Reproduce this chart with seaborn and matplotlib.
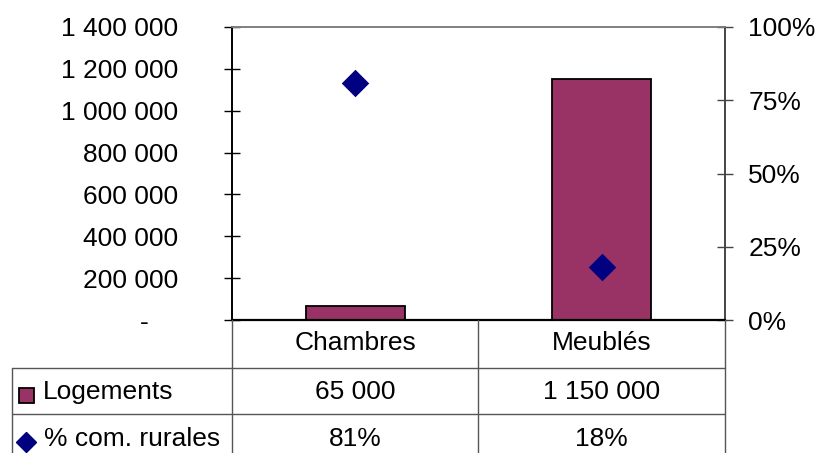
import matplotlib
matplotlib.use("Agg")
import matplotlib.pyplot as plt
from matplotlib.lines import Line2D
from matplotlib.patches import Rectangle
from matplotlib.ticker import FuncFormatter
import seaborn as sns
import pandas as pd

categories = ["Chambres", "Meublés"]
logements = [65000, 1150000]
pct_rurales = [0.81, 0.18]
series_names = ["Logements", "% com. rurales"]
left_ticks = [0, 200000, 400000, 600000, 800000, 1000000, 1200000, 1400000]
right_ticks = [0, 0.25, 0.5, 0.75, 1.0]

BAR_COLOR = "#993366"
DIAMOND_COLOR = "#000080"

sns.set_theme(style="white")
plt.rcParams["font.family"] = ["Liberation Sans", "DejaVu Sans"]
plt.rcParams["text.color"] = "black"
plt.rcParams["ytick.color"] = "black"
plt.rcParams["ytick.labelcolor"] = "black"
FS = 19

df = pd.DataFrame({"cat": categories, "log": logements, "pct": pct_rurales})

W, H = 816, 453
fig = plt.figure(figsize=(W / 100, H / 100), dpi=100)
x0, x1, y_top, y_bot = 232, 725, 27, 320
ax = fig.add_axes([x0 / W, 1 - y_bot / H, (x1 - x0) / W, (y_bot - y_top) / H])

sns.barplot(data=df, x="cat", y="log", ax=ax, color=BAR_COLOR, saturation=1,
            width=0.4, edgecolor="black", linewidth=1.3)
ax.set_ylim(0, 1400000)
ax.set_xlim(-0.5, 1.5)
ax.set_yticks(left_ticks)


def fmt_thousands(v, _pos=None):
    if v == 0:
        return "-"
    return f"{int(v):,}".replace(",", " ")


def fmt_axis(v, _pos=None):
    # accounting style: the zero dash sits left of the digit column
    s = fmt_thousands(v)
    return s + "    " if v == 0 else s


ax.yaxis.set_major_formatter(FuncFormatter(fmt_axis))
ax.set_xticks([])
ax.set_xlabel("")
ax.set_ylabel("")
ax.tick_params(axis="y", direction="inout", length=11.5, width=1, colors="black",
               labelsize=FS, pad=33, left=True)

ax2 = ax.twinx()
sns.scatterplot(data=df, x="cat", y="pct", ax=ax2, marker="D", s=14 ** 2,
                color=DIAMOND_COLOR, edgecolor=DIAMOND_COLOR, linewidth=0, zorder=5)
ax2.set_ylim(0, 1)
ax2.set_yticks(right_ticks)
ax2.yaxis.set_major_formatter(FuncFormatter(lambda v, p: f"{int(round(v * 100))}%"))
ax2.set_ylabel("")
ax2.tick_params(axis="y", direction="inout", length=11.5, width=1, color="#444444",
                labelcolor="black", labelsize=FS, pad=11, right=True)

for a in (ax, ax2):
    a.spines["left"].set_color("black")
    a.spines["bottom"].set_color("black")
    a.spines["top"].set_color("#808080")
    a.spines["right"].set_color("#444444")
    for s in a.spines.values():
        s.set_linewidth(1.2)
ax2.spines["bottom"].set_linewidth(1.6)

# data table below the plot, drawn in figure pixel coordinates
def px_line(xa, ya, xb, yb, color="#555555", lw=1.0):
    fig.add_artist(Line2D([xa / W, xb / W], [1 - ya / H, 1 - yb / H],
                          transform=fig.transFigure, color=color, lw=lw))


col_edges = [232, 478, 725]
row_header_bottom, row1_bottom = 368, 414
table_left = 12
for xe in col_edges:
    px_line(xe, y_bot, xe, H)
px_line(table_left, row_header_bottom, table_left, H)
px_line(table_left, row_header_bottom, 725, row_header_bottom)
px_line(table_left, row1_bottom, 725, row1_bottom)


def ftext(x, y, s, ha="center"):
    fig.text(x / W, 1 - y / H, s, ha=ha, va="center", fontsize=FS, color="black")


centers = [(col_edges[i] + col_edges[i + 1]) / 2 for i in range(2)]
for cx, cat in zip(centers, categories):
    ftext(cx, 343, cat)
for cx, v in zip(centers, logements):
    ftext(cx, 392, fmt_thousands(v))
for cx, v in zip(centers, pct_rurales):
    ftext(cx, 439, f"{int(round(v * 100))}%")

ftext(43, 392, series_names[0], ha="left")
ftext(44, 439, series_names[1], ha="left")

fig.add_artist(Rectangle((19 / W, 1 - 403 / H), 15 / W, 15 / H, transform=fig.transFigure,
                         facecolor=BAR_COLOR, edgecolor="black", lw=1.3))
fig.add_artist(Line2D([26 / W], [1 - 442 / H], marker="D", markersize=10,
                      color=DIAMOND_COLOR, transform=fig.transFigure, linestyle="none"))

fig.savefig("out.png", dpi=100)
